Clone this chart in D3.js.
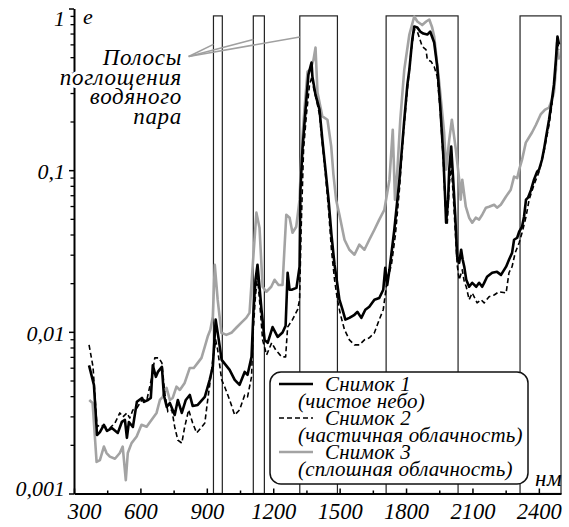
<!DOCTYPE html>
<html><head><meta charset="utf-8">
<script src="https://cdn.jsdelivr.net/npm/d3@7"></script>
<style>
body{margin:0;background:#fff}
svg{display:block}
</style>
</head><body>
<svg id="chart" width="569" height="527"></svg>
<script>
// ---------- DATA ----------
const nm1=[368,390,404,417,435,449,471,498,516,530,539,548,566,584,607,616,634,647,656,670,679,697,706,719,733,755,769,787,805,823,836,859,891,913,927,940,954,967,985,1003,1026,1048,1071,1084,1102,1111,1120,1129,1138,1147,1161,1175,1197,1220,1242,1256,1265,1274,1283,1305,1319,1323,1332,1346,1359,1373,1377,1391,1409,1422,1436,1450,1463,1477,1490,1499,1513,1526,1544,1567,1580,1598,1616,1634,1657,1679,1697,1706,1715,1725,1747,1770,1792,1806,1815,1828,1837,1851,1864,1878,1896,1909,1927,1941,1954,1968,1977,1981,1990,1995,2004,2013,2022,2031,2040,2049,2056,2063,2072,2085,2099,2117,2130,2144,2153,2166,2189,2211,2229,2252,2265,2279,2288,2302,2311,2324,2333,2342,2351,2365,2378,2392,2401,2414,2423,2432,2446,2459,2468,2477,2484,2491];
const clearSky=[0.0062,0.0047,0.0023,0.0024,0.00266,0.00244,0.00254,0.00237,0.00277,0.00285,0.00221,0.00277,0.00258,0.00369,0.0039,0.00369,0.00379,0.0039,0.0062,0.00527,0.00565,0.00607,0.00407,0.00343,0.00363,0.00306,0.00379,0.00315,0.00379,0.00407,0.00348,0.00353,0.00396,0.00505,0.00607,0.0119,0.00892,0.00671,0.00625,0.00582,0.00505,0.0047,0.00565,0.00542,0.0070,0.0137,0.021,0.026,0.019,0.0137,0.00892,0.00855,0.0107,0.0093,0.0099,0.0109,0.0232,0.0182,0.0182,0.0187,0.0253,0.0757,0.134,0.237,0.39,0.463,0.379,0.293,0.237,0.154,0.1007,0.0657,0.0399,0.026,0.0195,0.0158,0.0137,0.0119,0.0122,0.01275,0.0133,0.0122,0.0137,0.0143,0.0158,0.0162,0.0182,0.0249,0.0195,0.0242,0.0428,0.0873,0.205,0.338,0.419,0.643,0.774,0.763,0.72,0.70,0.69,0.72,0.616,0.437,0.254,0.125,0.0657,0.0473,0.0657,0.1007,0.14,0.0873,0.053,0.0291,0.0267,0.0322,0.0279,0.0253,0.021,0.019,0.0201,0.019,0.0201,0.019,0.0201,0.0219,0.0232,0.0235,0.0225,0.0253,0.0279,0.0308,0.0371,0.0382,0.0416,0.0447,0.0515,0.0657,0.0676,0.0757,0.0873,0.0979,0.1007,0.116,0.134,0.159,0.205,0.273,0.338,0.483,0.671,0.598];

const nm2=[368,386,404,417,440,462,485,507,521,539,552,566,584,607,629,652,665,683,697,710,724,742,755,769,787,800,818,836,854,877,891,904,918,927,940,949,967,981,1003,1026,1048,1071,1084,1102,1109,1120,1129,1138,1152,1170,1193,1211,1238,1256,1265,1287,1310,1319,1326,1337,1350,1364,1375,1382,1395,1409,1422,1436,1450,1463,1477,1490,1504,1522,1544,1567,1589,1612,1634,1657,1679,1697,1715,1734,1752,1770,1788,1806,1824,1837,1851,1860,1873,1890,1896,1913,1927,1941,1954,1968,1977,1986,1995,2004,2013,2022,2031,2040,2054,2063,2072,2085,2099,2121,2139,2153,2175,2198,2220,2252,2265,2279,2293,2311,2324,2342,2356,2378,2401,2423,2446,2459,2473,2484,2491];
const partialCloud=[0.0083,0.00607,0.00258,0.00266,0.00258,0.00254,0.00273,0.00315,0.00298,0.00315,0.00293,0.00329,0.00338,0.00379,0.00379,0.00527,0.0069,0.0069,0.00643,0.00419,0.0032,0.00329,0.00258,0.00214,0.00205,0.00258,0.00329,0.00273,0.00237,0.00258,0.00273,0.00379,0.00527,0.00671,0.00892,0.00774,0.00505,0.00456,0.00379,0.00306,0.00329,0.00407,0.00396,0.00527,0.00986,0.0169,0.0219,0.0158,0.00892,0.0072,0.00855,0.00774,0.0070,0.0070,0.0107,0.0119,0.0137,0.0158,0.0428,0.134,0.221,0.338,0.379,0.324,0.273,0.221,0.144,0.0938,0.0569,0.0322,0.021,0.0158,0.01275,0.0103,0.00892,0.0083,0.0083,0.00892,0.00918,0.00986,0.0119,0.0137,0.021,0.026,0.0399,0.0757,0.166,0.315,0.557,0.741,0.72,0.661,0.582,0.557,0.483,0.47,0.437,0.379,0.237,0.116,0.0611,0.046,0.0813,0.108,0.0705,0.0428,0.026,0.021,0.0242,0.0204,0.019,0.0158,0.0174,0.0151,0.0158,0.0151,0.0165,0.0169,0.0177,0.0174,0.0232,0.0253,0.0308,0.0356,0.041,0.0515,0.0657,0.0813,0.0979,0.130,0.191,0.254,0.39,0.625,0.557];

const nm3=[369,384,402,417,435,447,462,485,507,520,534,543,560,583,605,628,650,673,688,701,718,733,746,763,778,800,823,841,859,876,891,904,916,927,936,949,966,988,1011,1033,1056,1078,1093,1107,1124,1138,1152,1169,1191,1206,1224,1242,1259,1274,1287,1304,1319,1328,1341,1355,1368,1382,1391,1400,1422,1445,1462,1472,1484,1499,1522,1544,1567,1589,1612,1634,1657,1679,1702,1725,1740,1750,1761,1774,1792,1815,1837,1851,1873,1891,1905,1918,1927,1950,1972,1981,1995,2007,2025,2040,2047,2054,2070,2085,2099,2115,2130,2144,2161,2175,2198,2211,2228,2251,2273,2288,2302,2311,2324,2341,2369,2387,2408,2428,2446,2459,2468,2477,2482,2491];
const overcast=[0.00379,0.00363,0.00157,0.00161,0.00195,0.00178,0.00169,0.00164,0.00178,0.00195,0.00121,0.00178,0.00205,0.00225,0.00266,0.00259,0.00285,0.00315,0.00379,0.00396,0.0045,0.00379,0.0039,0.00458,0.00437,0.00483,0.00598,0.00598,0.00643,0.0069,0.00811,0.00935,0.0103,0.0124,0.026,0.0158,0.00986,0.00958,0.00986,0.0106,0.0114,0.0122,0.0131,0.0253,0.0546,0.0441,0.019,0.0177,0.019,0.021,0.0195,0.0195,0.053,0.0508,0.041,0.0447,0.0657,0.134,0.237,0.407,0.419,0.483,0.573,0.302,0.215,0.205,0.14,0.0938,0.0657,0.053,0.0371,0.0322,0.030,0.0346,0.0322,0.0371,0.0428,0.0494,0.0569,0.0873,0.178,0.0657,0.1007,0.205,0.419,0.69,0.892,0.831,0.79,0.831,0.855,0.763,0.671,0.348,0.171,0.1007,0.154,0.205,0.134,0.0873,0.0657,0.0873,0.0594,0.0508,0.0473,0.0508,0.0494,0.053,0.0586,0.0594,0.0611,0.0586,0.0611,0.0685,0.0757,0.0912,0.0893,0.1007,0.116,0.148,0.171,0.191,0.221,0.237,0.244,0.273,0.302,0.419,0.616,0.483];

const bandStart=[930,1110,1320,1710,2315];
const bandEnd=[970,1160,1490,2035,2500];
const bandTop=0.9;

const xTicks=[300,600,900,1200,1500,1800,2100,2400];
const xMinorTicks=[450,750,1050,1350,1650,1950,2250];
const yTicks=[0.001,0.01,0.1,1];
const yTickLabels=["0,001","0,01","0,1","1"];

const seriesTitles=["Снимок 1","Снимок 2","Снимок 3"];
const seriesNotes=["(чистое небо)","(частичная облачность)","(сплошная облачность)"];
const annotationLines=["Полосы","поглощения","водяного","пара"];
const yAxisTitle="e";
const xAxisTitle="нм";

// ---------- SCALES ----------
const FONT="'Liberation Serif','Times New Roman','DejaVu Serif',serif";
const svg=d3.select("#chart");
const x=d3.scaleLinear().domain([300,2500]).range([74,561]);
const y=d3.scaleLog().domain([0.001,1]).range([493.5,8.5]);

// bands
svg.append("g").selectAll("rect").data(bandStart).join("rect")
  .attr("x",(d)=>x(d)).attr("width",(d,i)=>x(bandEnd[i])-x(d))
  .attr("y",y(bandTop)).attr("height",y(0.001)-y(bandTop))
  .attr("fill","none").attr("stroke","#222").attr("stroke-width",1.2);

// series
const line=d3.line().x(d=>x(d[0])).y(d=>y(d[1]));
const styles=[
  {nm:nm3,v:overcast,color:"#a3a3a3",w:2.6,dash:null},
  {nm:nm2,v:partialCloud,color:"#000",w:1.6,dash:"5,3"},
  {nm:nm1,v:clearSky,color:"#000",w:2.6,dash:null}
];
styles.forEach(s=>{
  svg.append("path").datum(d3.zip(s.nm,s.v)).attr("d",line)
    .attr("fill","none").attr("stroke",s.color).attr("stroke-width",s.w)
    .attr("stroke-linejoin","round")
    .attr("stroke-dasharray",s.dash);
});

// axes
const yMinor=[];
[0.001,0.01,0.1].forEach(b=>{for(let k=2;k<=9;k++)yMinor.push(b*k);});
svg.append("g").attr("transform","translate(74,0)")
  .call(d3.axisLeft(y).tickValues(yMinor).tickSize(3.5).tickSizeOuter(0).tickFormat(""))
  .call(g=>g.select(".domain").remove())
  .call(g=>g.selectAll("line").attr("stroke-width",1.3));
const yAx=svg.append("g").attr("transform","translate(74,0)")
  .call(d3.axisLeft(y).tickValues(yTicks).tickSize(5).tickSizeOuter(0).tickFormat((d,i)=>yTickLabels[i]));
yAx.select(".domain").attr("stroke-width",2);
yAx.selectAll("line").attr("stroke-width",1.5);
yAx.selectAll("text").attr("x",-9).attr("font-size","22px")
  .attr("dy",(d)=>d===1?"0.78em":(d===0.001?"0.1em":"0.38em"));

svg.append("g").attr("transform","translate(0,493.5)")
  .call(d3.axisBottom(x).tickValues(xMinorTicks).tickSize(-3).tickSizeOuter(0).tickFormat(""))
  .call(g=>g.select(".domain").remove())
  .call(g=>g.selectAll("line").attr("stroke-width",1.5));
const xAx=svg.append("g").attr("transform","translate(0,493.5)")
  .call(d3.axisBottom(x).tickValues(xTicks).tickSize(-5).tickSizeOuter(0).tickFormat(d3.format("d")));
xAx.select(".domain").attr("stroke-width",2);
xAx.selectAll("line").attr("stroke-width",1.5);
xAx.selectAll("text").attr("y",25.5).attr("dy",null).attr("font-size","22.5px")
  .attr("dx",(d)=>d===300?10:0);

svg.append("text").attr("x",83).attr("y",24).attr("font-size","22px").text(yAxisTitle);
svg.append("text").attr("x",535).attr("y",486).attr("font-size","23px").style("letter-spacing","0.5px").text(xAxisTitle);

// annotation leaders
const origin=[818,0.505];
const targets=[[930,0.6],[1110,0.643],[1320,0.667]];
targets.forEach(t=>{
  svg.append("line").attr("x1",x(origin[0])).attr("y1",y(origin[1]))
    .attr("x2",x(t[0])).attr("y2",y(t[1]))
    .attr("stroke","#a0a0a0").attr("stroke-width",1.6);
});
const ann=svg.append("text").attr("font-size","23px").attr("text-anchor","end")
  .attr("stroke","#fff").attr("stroke-width",6).attr("paint-order","stroke").attr("stroke-linejoin","round")
  .style("letter-spacing","0.7px");
annotationLines.forEach((t,i)=>{
  ann.append("tspan").attr("x",182).attr("y",65+i*19.7).text(t);
});

// legend
const lg=svg.append("g");
lg.append("rect").attr("x",270).attr("y",372).attr("width",258).attr("height",112)
  .attr("rx",11).attr("fill","#fff").attr("stroke","#111").attr("stroke-width",1.5);
const legendStyles=[styles[2],styles[1],styles[0]];
legendStyles.forEach((s,i)=>{
  const cy=384+i*34;
  lg.append("line").attr("x1",279).attr("x2",313).attr("y1",cy).attr("y2",cy)
    .attr("stroke",s.color).attr("stroke-width",s.w).attr("stroke-dasharray",s.dash);
  lg.append("text").attr("x",325).attr("y",cy+7).attr("font-size","21px").style("letter-spacing","0.2px").text(seriesTitles[i]);
  lg.append("text").attr("x",298).attr("y",cy+24).attr("font-size","21px").style("letter-spacing","0.2px").text(seriesNotes[i]);
});

svg.selectAll("text").style("font-family",FONT).style("font-style","italic").style("fill","#000");
</script>
</body></html>
